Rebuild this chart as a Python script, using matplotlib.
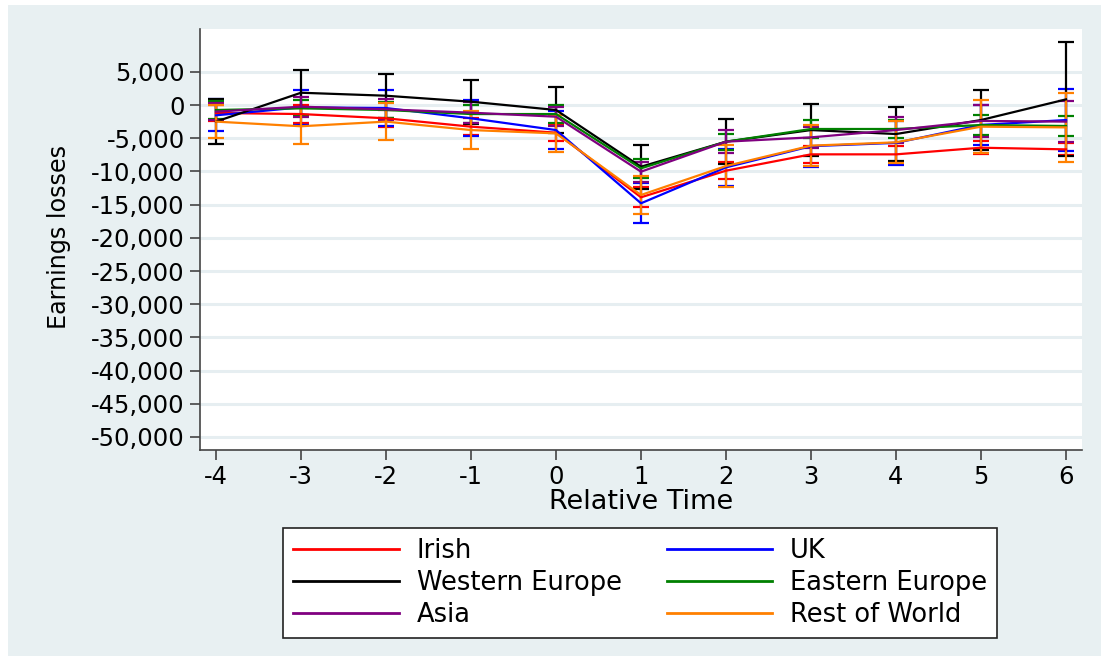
import matplotlib
matplotlib.use("Agg")
import matplotlib.pyplot as plt
from matplotlib.patches import Rectangle
from matplotlib.lines import Line2D
from matplotlib.ticker import FuncFormatter

plt.rcParams['font.family'] = ['DejaVu Sans']
plt.rcParams['axes.unicode_minus'] = False

relative_time = [-4, -3, -2, -1, 0, 1, 2, 3, 4, 5, 6]

series_names = ["Irish", "UK", "Western Europe", "Eastern Europe", "Asia", "Rest of World"]
series_colors = ["#ff0000", "#0000ff", "#000000", "#008000", "#800080", "#ff8000"]

irish = [-1200, -1360, -2000, -3260, -4170, -13900, -9890, -7430, -7430, -6430, -6680]
irish_ci = [1200, 1300, 1300, 1300, 1300, 1500, 1300, 1300, 1300, 1000, 900]

uk = [-1550, -350, -450, -2000, -3770, -14800, -9390, -6200, -5700, -3000, -2260]
uk_ci = [2400, 2600, 2700, 2700, 2900, 3000, 2800, 3100, 3300, 3000, 4700]

western_europe = [-2500, 1850, 1400, 500, -750, -9290, -5520, -3770, -4370, -2260, 850]
western_europe_ci = [3400, 3400, 3300, 3300, 3400, 3300, 3400, 3900, 4100, 4500, 8600]

eastern_europe = [-750, -500, -750, -1360, -1360, -9540, -5520, -3610, -3610, -3010, -3160]
eastern_europe_ci = [1300, 1200, 1200, 1300, 1300, 1400, 1200, 1300, 1300, 1500, 1550]

asia = [-1000, -250, -650, -1150, -1760, -10040, -5520, -4870, -3770, -2400, -2500]
asia_ci = [1300, 1500, 1600, 1600, 1400, 1500, 1700, 1600, 2000, 2400, 3100]

rest_of_world = [-2500, -3200, -2500, -3770, -4270, -13550, -9190, -6120, -5620, -3260, -3370]
rest_of_world_ci = [2500, 2700, 2750, 2850, 2800, 2800, 3100, 3050, 3150, 4000, 5200]

y_ticks = list(range(-50000, 5001, 5000))

values = [irish, uk, western_europe, eastern_europe, asia, rest_of_world]
cis = [irish_ci, uk_ci, western_europe_ci, eastern_europe_ci, asia_ci, rest_of_world_ci]

W, H = 1109, 661
fig = plt.figure(figsize=(W / 100, H / 100), dpi=100)
fig.patch.set_facecolor("white")
fig.patches.append(Rectangle((8 / W, 5 / H), (W - 16) / W, (H - 10) / H,
                             transform=fig.transFigure, facecolor="#e8f0f2",
                             edgecolor="none", zorder=-10))

ax = fig.add_axes([200 / W, 1 - 450 / H, (1082 - 200) / W, (450 - 29) / H])
ax.set_facecolor("white")

for name, col, v, c in zip(series_names, series_colors, values, cis):
    ax.errorbar(relative_time, v, yerr=c, color=col, lw=1.6, elinewidth=1.6,
                capsize=5.5, capthick=1.6, label=name)

ax.set_xlim(-4.188, 6.188)
ax.set_ylim(-51960, 11450)
ax.set_xticks(relative_time)
ax.set_yticks(y_ticks)
ax.yaxis.set_major_formatter(FuncFormatter(lambda v, p: f"{int(v):,}"))
ax.grid(axis="y", color="#e6eef1", lw=2.2)
ax.set_axisbelow(True)

for s in ["top", "right"]:
    ax.spines[s].set_visible(False)
for s in ["left", "bottom"]:
    ax.spines[s].set_color("#444444")
    ax.spines[s].set_linewidth(1.2)
ax.tick_params(axis="both", colors="#444444", length=7.5, width=1.2, labelsize=17.5,
               labelcolor="black", pad=3.5)

ax.set_xlabel("Relative Time", fontsize=19.5, labelpad=0)
ax.set_ylabel("Earnings losses", fontsize=17.2)
ax.yaxis.set_label_coords((71 - 200) / 882, 0.506)

# legend filled row-wise like the reference
order = [0, 2, 4, 1, 3, 5]
lh = [Line2D([], [], color=series_colors[i], lw=2) for i in order]
ll = [series_names[i] for i in order]
leg = fig.legend(lh, ll, ncol=2, loc="upper left",
                 bbox_to_anchor=(283 / W, 1 - 528 / H),
                 fontsize=18.5, frameon=True, fancybox=False, handlelength=4.1,
                 handletextpad=0.7, columnspacing=1.75, labelspacing=0.22,
                 borderpad=0.4, borderaxespad=0, framealpha=1)
leg.get_frame().set_edgecolor("#222222")
leg.get_frame().set_facecolor("white")
leg.get_frame().set_linewidth(1.2)

fig.savefig("out.png", dpi=100, facecolor=fig.get_facecolor())
